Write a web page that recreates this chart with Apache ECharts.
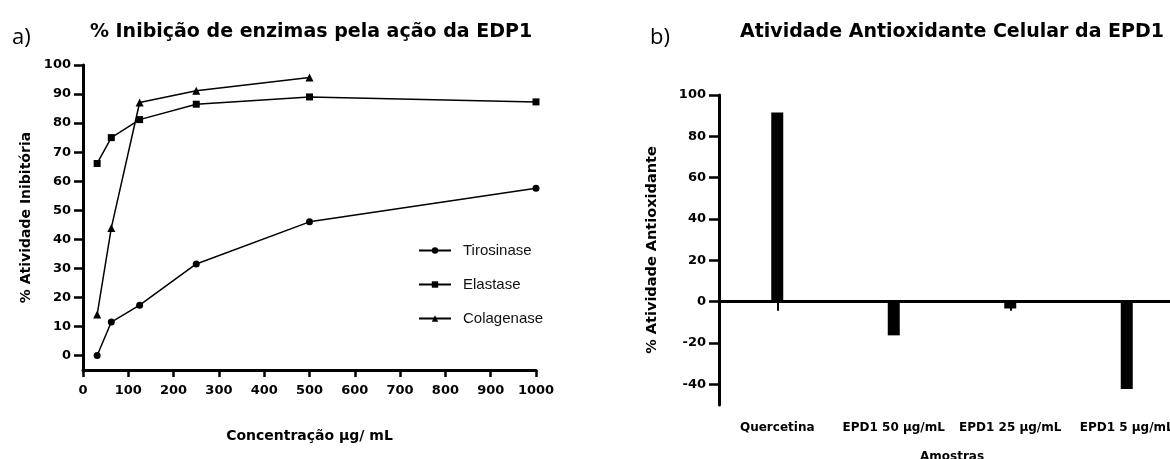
<!DOCTYPE html>
<html>
<head>
<meta charset="utf-8">
<script src="https://cdn.jsdelivr.net/npm/echarts@6/dist/echarts.min.js"></script>
<style>html,body{margin:0;padding:0;background:#fff}#c{width:1170px;height:459px}</style>
</head>
<body>
<div id="c"></div>
<script>
// Panel a) data
const concentracoes = [31.25, 62.5, 125, 250, 500, 1000];
const tirosinase = [0, 11.5, 17.3, 31.5, 46.0, 57.6];
const elastase = [66.1, 75.0, 81.2, 86.5, 89.0, 87.3];
const colagenase = [14.1, 43.9, 87.1, 91.1, 95.7];
const yTicksA = [0, 10, 20, 30, 40, 50, 60, 70, 80, 90, 100];
// Panel b) data
const amostras = ['Quercetina', 'EPD1 50 \u00b5g/mL', 'EPD1 25 \u00b5g/mL', 'EPD1 5 \u00b5g/mL'];
const atividade = [91.5, -16.3, -3.3, -42.2];
const yTicksB = [-40, -20, 0, 20, 40, 60, 80, 100];

const F = 'Liberation Sans, Arial, sans-serif';
const FB = '"DejaVu Sans", sans-serif';
const pair = (xs, ys) => ys.map((v, i) => [xs[i], v]);
const lineSeries = (name, ys, sym) => ({
  name, type: 'line', xAxisIndex: 0, yAxisIndex: 0,
  data: pair(concentracoes, ys), symbol: sym, symbolSize: sym === 'triangle' ? 8 : 7,
  lineStyle: { color: '#000', width: 1.5 }, itemStyle: { color: '#000' }, z: 3
});
const axisLbl = { color: '#000', fontFamily: FB, fontWeight: 'bold', fontSize: 13 };
const nameStyle = (s) => ({ color: '#000', fontFamily: FB, fontWeight: 'bold', fontSize: s });

const chart = echarts.init(document.getElementById('c'), null, { renderer: 'canvas' });
chart.setOption({
  animation: false,
  backgroundColor: '#fff',
  graphic: [
    { type: 'text', style: { text: 'a)', x: 12, y: 38, font: '22px "Open Sans", sans-serif', fill: '#000', textVerticalAlign: 'middle' } },
    { type: 'text', style: { text: '% Inibição de enzimas pela ação da EDP1', x: 311, y: 32, font: 'bold 19px ' + FB, fill: '#000', textAlign: 'center', textVerticalAlign: 'middle' } },
    { type: 'text', style: { text: 'b)', x: 650, y: 38, font: '22px "Open Sans", sans-serif', fill: '#000', textVerticalAlign: 'middle' } },
    { type: 'text', style: { text: 'Atividade Antioxidante Celular da EPD1', x: 952, y: 32, font: 'bold 19px ' + FB, fill: '#000', textAlign: 'center', textVerticalAlign: 'middle' } }
  ],
  legend: {
    data: ['Tirosinase', 'Elastase', 'Colagenase'],
    orient: 'vertical', left: 413, top: 238, itemWidth: 32, itemHeight: 8, itemGap: 19,
    textStyle: { color: '#111', fontFamily: F, fontSize: 15, padding: [0, 0, 0, 7] }
  },
  grid: [
    { left: 83, top: 65, width: 453, height: 305, containLabel: false, outerBoundsMode: 'none' },
    { left: 719, top: 95, right: -15, height: 310, containLabel: false, outerBoundsMode: 'none' }
  ],
  xAxis: [
    {
      type: 'value', gridIndex: 0, min: 0, max: 1000, interval: 100,
      name: 'Concentração µg/ mL', nameLocation: 'middle', nameGap: 59,
      nameTextStyle: nameStyle(14),
      axisLine: { onZero: false, lineStyle: { color: '#000', width: 3 } },
      axisTick: { show: true, length: 7, lineStyle: { color: '#000', width: 2.5 } },
      axisLabel: Object.assign({ margin: 14, formatter: v => String(v) }, axisLbl),
      splitLine: { show: false }
    },
    {
      type: 'category', gridIndex: 1, data: amostras,
      name: 'Amostras', nameLocation: 'middle', nameGap: 46,
      nameTextStyle: nameStyle(12),
      axisLine: { onZero: true, lineStyle: { color: '#000', width: 3 } },
      axisTick: { show: true, alignWithLabel: true, length: 9, lineStyle: { color: '#000', width: 2 } },
      axisLabel: { margin: 17, interval: 0, color: '#000', fontFamily: FB, fontWeight: 'bold', fontSize: 12 },
      splitLine: { show: false }
    }
  ],
  yAxis: [
    {
      type: 'value', gridIndex: 0, min: -5, max: 100,
      name: '% Atividade Inibitória', nameLocation: 'middle', nameGap: 50, nameRotate: 90,
      nameTextStyle: nameStyle(14),
      axisLine: { show: true, onZero: false, lineStyle: { color: '#000', width: 3 } },
      axisTick: { show: true, length: 9, customValues: yTicksA, lineStyle: { color: '#000', width: 2.5 } },
      axisLabel: Object.assign({ margin: 12, customValues: yTicksA }, axisLbl),
      splitLine: { show: false }
    },
    {
      type: 'value', gridIndex: 1, min: -50, max: 100,
      name: '% Atividade Antioxidante', nameLocation: 'middle', nameGap: 59, nameRotate: 90,
      nameTextStyle: nameStyle(14.5),
      axisLine: { show: true, onZero: false, lineStyle: { color: '#000', width: 3 } },
      axisTick: { show: true, length: 10, customValues: yTicksB, lineStyle: { color: '#000', width: 2.5 } },
      axisLabel: Object.assign({ margin: 13, customValues: yTicksB }, axisLbl),
      splitLine: { show: false }
    }
  ],
  series: [
    lineSeries('Tirosinase', tirosinase, 'circle'),
    lineSeries('Elastase', elastase, 'rect'),
    lineSeries('Colagenase', colagenase, 'triangle'),
    {
      name: 'Atividade', type: 'bar', xAxisIndex: 1, yAxisIndex: 1,
      data: atividade, barWidth: 12, itemStyle: { color: '#000' }, z: 3
    }
  ]
});
</script>
</body>
</html>
